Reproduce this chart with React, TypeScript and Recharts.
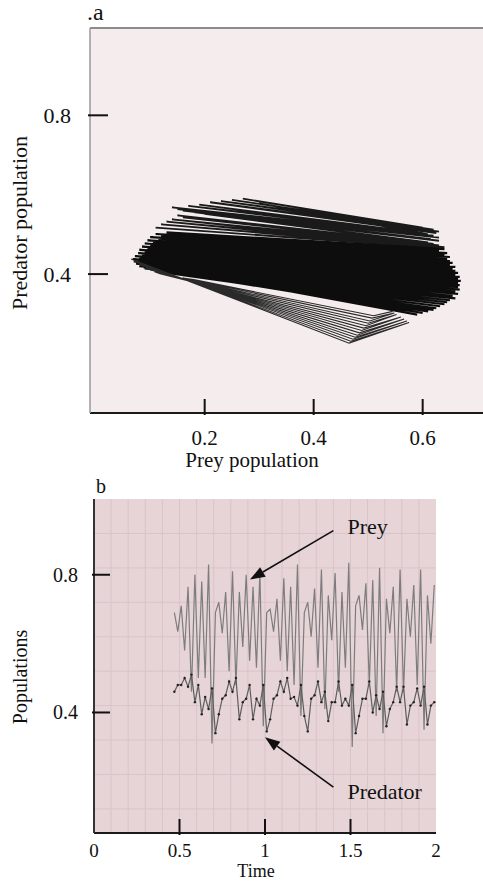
import React from 'react';
import { LineChart, Line, XAxis, YAxis, CartesianGrid, ReferenceLine } from 'recharts';

const SERIF = '"Liberation Serif", "Times New Roman", Times, "DejaVu Serif", serif';
const txt = (size: number): React.CSSProperties => ({ fontFamily: SERIF, fontSize: size, fill: '#111' });

// panel a: phase portrait, traced stroke by stroke off the figure (prey, predator)
const phaseTop: [number, number][] = [
  [0.27, 0.59], [0.6, 0.517],
  [0.25, 0.587], [0.62, 0.512],
  [0.23, 0.584], [0.63, 0.507],
  [0.21, 0.581], [0.625, 0.503],
  [0.3, 0.578], [0.61, 0.5],
  [0.19, 0.575], [0.6, 0.503],
  [0.17, 0.572], [0.62, 0.497],
  [0.14, 0.568], [0.63, 0.492],
  [0.15, 0.564], [0.615, 0.488],
  [0.16, 0.56], [0.63, 0.484],
  [0.18, 0.556], [0.61, 0.48],
  [0.2, 0.552], [0.62, 0.476],
  [0.15, 0.548], [0.55, 0.484],
  [0.16, 0.543], [0.63, 0.472],
  [0.14, 0.538], [0.6, 0.47],
  [0.13, 0.532], [0.64, 0.468],
  [0.12, 0.525], [0.63, 0.466],
  [0.11, 0.517], [0.635, 0.465],
];

const phaseBlob: [number, number][] = [
  [0.13, 0.505], [0.64, 0.463],
  [0.11, 0.501], [0.63, 0.458],
  [0.12, 0.497], [0.645, 0.453],
  [0.1, 0.493], [0.64, 0.448],
  [0.115, 0.489], [0.65, 0.443],
  [0.095, 0.485], [0.645, 0.438],
  [0.105, 0.481], [0.65, 0.433],
  [0.09, 0.477], [0.655, 0.428],
  [0.1, 0.473], [0.65, 0.423],
  [0.085, 0.469], [0.66, 0.418],
  [0.095, 0.465], [0.655, 0.413],
  [0.08, 0.461], [0.66, 0.408],
  [0.09, 0.457], [0.665, 0.403],
  [0.078, 0.453], [0.66, 0.398],
  [0.085, 0.449], [0.668, 0.393],
  [0.072, 0.445], [0.665, 0.388],
  [0.08, 0.441], [0.67, 0.383],
  [0.068, 0.438], [0.665, 0.378],
  [0.075, 0.435], [0.668, 0.372],
  [0.07, 0.432], [0.665, 0.367],
  [0.078, 0.429], [0.668, 0.361],
  [0.074, 0.426], [0.66, 0.356],
  [0.082, 0.423], [0.665, 0.35],
  [0.08, 0.42], [0.655, 0.345],
  [0.088, 0.417], [0.66, 0.339],
  [0.09, 0.414], [0.65, 0.334],
  [0.1, 0.411], [0.645, 0.329],
  [0.11, 0.408], [0.64, 0.324],
  [0.125, 0.405], [0.632, 0.319],
  [0.14, 0.401], [0.625, 0.314],
  [0.16, 0.397], [0.62, 0.31],
  [0.19, 0.392], [0.61, 0.306],
  [0.22, 0.387], [0.6, 0.302],
  [0.26, 0.381], [0.59, 0.298],
];

const phaseLower: [number, number][] = [
  [0.065, 0.438], [0.465, 0.226], [0.575, 0.278],
  [0.468, 0.231], [0.07, 0.434],
  [0.075, 0.43], [0.472, 0.236], [0.571, 0.282],
  [0.476, 0.241], [0.08, 0.425],
  [0.086, 0.421], [0.48, 0.246], [0.566, 0.287],
  [0.484, 0.252], [0.092, 0.416],
  [0.1, 0.411], [0.488, 0.258], [0.56, 0.292],
  [0.492, 0.264], [0.108, 0.406],
  [0.118, 0.401], [0.496, 0.27], [0.552, 0.298],
  [0.5, 0.276], [0.13, 0.398],
  [0.145, 0.394], [0.503, 0.282], [0.548, 0.302],
  [0.507, 0.289], [0.16, 0.39],
  [0.18, 0.386], [0.51, 0.295], [0.545, 0.306],
];

// panel b: time series
const times = [
  0.47, 0.49, 0.51, 0.53, 0.55, 0.57, 0.59, 0.61, 0.63, 0.65, 0.67, 0.69, 0.71, 0.73, 0.75, 0.77, 0.79, 0.81, 0.83,
  0.85, 0.87, 0.89, 0.91, 0.93, 0.95, 0.97, 0.99, 1.01, 1.03, 1.05, 1.07, 1.09, 1.11, 1.13, 1.15, 1.17, 1.19, 1.21,
  1.23, 1.25, 1.27, 1.29, 1.31, 1.33, 1.35, 1.37, 1.39, 1.41, 1.43, 1.45, 1.47, 1.49, 1.51, 1.53, 1.55, 1.57, 1.59, 1.61,
  1.63, 1.65, 1.67, 1.69, 1.71, 1.73, 1.75, 1.77, 1.79, 1.81, 1.83, 1.85, 1.87, 1.89, 1.91, 1.93, 1.95, 1.97, 1.99,
];

const prey = [
  0.69, 0.635, 0.71, 0.58, 0.765, 0.46, 0.8, 0.5, 0.78, 0.5, 0.83, 0.31, 0.69, 0.72, 0.63, 0.75, 0.52, 0.81, 0.48,
  0.75, 0.59, 0.8, 0.55, 0.765, 0.53, 0.805, 0.36, 0.69, 0.7, 0.635, 0.73, 0.55, 0.79, 0.52, 0.765, 0.48, 0.83, 0.39,
  0.69, 0.72, 0.62, 0.76, 0.53, 0.815, 0.41, 0.74, 0.61, 0.805, 0.46, 0.75, 0.53, 0.835, 0.3, 0.71, 0.74, 0.64, 0.775, 0.48,
  0.785, 0.39, 0.82, 0.34, 0.73, 0.63, 0.765, 0.46, 0.815, 0.46, 0.73, 0.62, 0.77, 0.48, 0.815, 0.35, 0.74, 0.6, 0.77,
];

const predator = [
  0.46, 0.48, 0.48, 0.5, 0.475, 0.51, 0.43, 0.48, 0.395, 0.445, 0.41, 0.47, 0.34, 0.395, 0.44, 0.45, 0.49, 0.46, 0.5,
  0.38, 0.43, 0.44, 0.48, 0.38, 0.44, 0.42, 0.48, 0.345, 0.38, 0.44, 0.45, 0.49, 0.46, 0.5, 0.44, 0.445, 0.42, 0.48,
  0.39, 0.345, 0.44, 0.45, 0.49, 0.43, 0.46, 0.375, 0.43, 0.43, 0.49, 0.42, 0.44, 0.42, 0.48, 0.34, 0.39, 0.44, 0.44, 0.49,
  0.4, 0.45, 0.41, 0.46, 0.36, 0.41, 0.43, 0.475, 0.43, 0.475, 0.365, 0.42, 0.43, 0.47, 0.42, 0.475, 0.365, 0.42, 0.43,
];

const gridTimes = [0.1, 0.2, 0.3, 0.4, 0.5, 0.6, 0.7, 0.8, 0.9, 1, 1.1, 1.2, 1.3, 1.4, 1.5, 1.6, 1.7, 1.8, 1.9];
const gridPops = [0.12, 0.22, 0.32, 0.42, 0.52, 0.62, 0.72, 0.82, 0.92];

const toXY = (pts: [number, number][]) => pts.map(([x, y]) => ({ x, y }));

const series = times.map((t, i) => ({ t, prey: prey[i], predator: predator[i] }));

// ticks point inward: a short stroke inside the plot, label outside
const makeXTick = (len: number, labelDy: number, fontSize: number, skip: number[]) => (p: any) => {
  const v = p.payload.value;
  return (
    <g>
      {!skip.includes(v) && <line x1={p.x} x2={p.x} y1={p.y} y2={p.y - len} stroke="#111" strokeWidth={2} />}
      <text x={p.x} y={p.y + labelDy} textAnchor="middle" style={txt(fontSize)}>
        {String(v)}
      </text>
    </g>
  );
};

const makeYTick = (len: number, labelDx: number, fontSize: number) => (p: any) => (
  <g>
    <line x1={p.x} x2={p.x + len} y1={p.y} y2={p.y} stroke="#111" strokeWidth={2} />
    <text x={p.x - labelDx} y={p.y} dy="0.35em" textAnchor="end" style={txt(fontSize)}>
      {String(p.payload.value)}
    </text>
  </g>
);

const arrow = (label: string, textDy: number) => (p: any) => {
  const { x1, y1, x2, y2 } = p;
  const a = Math.atan2(y2 - y1, x2 - x1);
  const len = 15;
  const w = 5.5;
  const bx = x2 - len * Math.cos(a);
  const by = y2 - len * Math.sin(a);
  const nx = -Math.sin(a) * w;
  const ny = Math.cos(a) * w;
  return (
    <g>
      <line x1={x1} y1={y1} x2={bx} y2={by} stroke="#111" strokeWidth={1.6} />
      <polygon points={`${x2},${y2} ${bx + nx},${by + ny} ${bx - nx},${by - ny}`} fill="#111" />
      <text x={x1 + 14} y={y1 + textDy} dy="0.35em" style={txt(22)}>
        {label}
      </text>
    </g>
  );
};

function PhasePanel() {
  return (
    <LineChart width={483} height={476} margin={{ top: 28, right: 0, bottom: 0, left: 0 }}>
      <CartesianGrid horizontal={false} vertical={false} fill="#f4eced" />
      <XAxis
        type="number"
        dataKey="x"
        domain={[-0.0104, 0.7107]}
        ticks={[0.2, 0.4, 0.6]}
        height={63}
        tickSize={0}
        tickLine={false}
        axisLine={{ stroke: '#1a1a1a', strokeWidth: 2 }}
        tick={makeXTick(16, 30, 21, [])}
        allowDataOverflow
        label={{
          content: () => (
            <text x={252} y={467} textAnchor="middle" style={txt(21)}>
              Prey population
            </text>
          ),
        }}
      />
      <YAxis
        type="number"
        domain={[0.05, 1.02]}
        ticks={[0.4, 0.8]}
        width={90}
        tickSize={0}
        tickLine={false}
        axisLine={{ stroke: '#9a9a9a', strokeWidth: 1.5 }}
        tick={makeYTick(20, 17, 22)}
        allowDataOverflow
        label={{
          content: () => (
            <g>
              <text x={19} y={223} dy="0.35em" transform="rotate(-90, 19, 223)" textAnchor="middle" style={txt(22)}>
                Predator population
              </text>
              <text x={87} y={20} style={txt(24)}>
                .a
              </text>
            </g>
          ),
        }}
      />
      <ReferenceLine y={1.02} stroke="#8c8c8c" strokeWidth={2} />
      <Line data={toXY(phaseTop)} dataKey="y" stroke="#1a1a1a" strokeWidth={1.8} dot={false} isAnimationActive={false} />
      <Line data={toXY(phaseBlob)} dataKey="y" stroke="#0d0d0d" strokeWidth={2.2} dot={false} isAnimationActive={false} />
      <Line data={toXY(phaseLower)} dataKey="y" stroke="#2a2a2a" strokeWidth={1.1} dot={false} isAnimationActive={false} />
    </LineChart>
  );
}

function TimePanel() {
  return (
    <LineChart width={483} height={407} data={series} margin={{ top: 23, right: 47, bottom: 0, left: 0 }}>
      <CartesianGrid horizontal={false} vertical={false} fill="#e6d4d7" />
      {gridTimes.map((g) => (
        <ReferenceLine key={`gx${g}`} x={g} stroke="#dbc4c8" strokeWidth={1} />
      ))}
      {gridPops.map((g) => (
        <ReferenceLine key={`gy${g}`} y={g} stroke="#dbc4c8" strokeWidth={1} />
      ))}
      <XAxis
        type="number"
        dataKey="t"
        domain={[0, 2]}
        ticks={[0, 0.5, 1, 1.5, 2]}
        height={50}
        tickSize={0}
        tickLine={false}
        axisLine={{ stroke: '#1a1a1a', strokeWidth: 2 }}
        tick={makeXTick(16, 22, 19, [0, 2])}
        label={{
          content: () => (
            <text x={256} y={401} textAnchor="middle" style={txt(18)}>
              Time
            </text>
          ),
        }}
      />
      <YAxis
        type="number"
        domain={[0.05, 1.02]}
        ticks={[0.4, 0.8]}
        width={94}
        tickSize={0}
        tickLine={false}
        axisLine={{ stroke: '#333', strokeWidth: 2 }}
        tick={makeYTick(18, 14, 20)}
        allowDataOverflow
        label={{
          content: () => (
            <g>
              <text x={20} y={201} dy="0.35em" transform="rotate(-90, 20, 201)" textAnchor="middle" style={txt(20)}>
                Populations
              </text>
              <text x={96} y={17} style={txt(20)}>
                b
              </text>
            </g>
          ),
        }}
      />
      <Line dataKey="prey" type="linear" stroke="#7d7d7d" strokeWidth={1.2} dot={false} isAnimationActive={false} />
      <Line
        dataKey="predator"
        type="linear"
        stroke="#5e5e5e"
        strokeWidth={1.2}
        dot={{ r: 1.2, fill: '#222', stroke: 'none' }}
        isAnimationActive={false}
      />
      <ReferenceLine segment={[{ x: 1.4, y: 0.928 }, { x: 0.912, y: 0.786 }]} shape={arrow('Prey', -4)} />
      <ReferenceLine segment={[{ x: 1.4, y: 0.183 }, { x: 1.0, y: 0.328 }]} shape={arrow('Predator', 4)} />
    </LineChart>
  );
}

export default function App() {
  return (
    <div style={{ position: 'absolute', left: 0, top: 0, width: 483, height: 883, background: '#fff', fontFamily: SERIF }}>
      <PhasePanel />
      <TimePanel />
    </div>
  );
}
